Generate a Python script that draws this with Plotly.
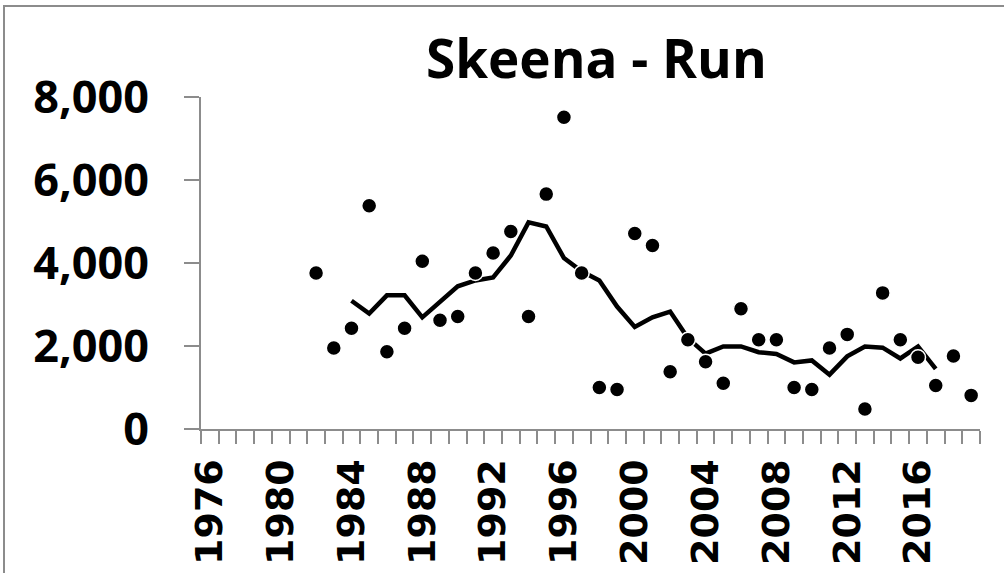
import plotly.graph_objects as go

years = list(range(1976, 2020))

run_years = list(range(1982, 2020))
run_values = [3760, 1950, 2430, 5380, 1860, 2430, 4040, 2620, 2710, 3760,
              4240, 4760, 2710, 5660, 7510, 3760, 1000, 950, 4710, 4420,
              1380, 2150, 1620, 1100, 2900, 2150, 2150, 1000, 950, 1950,
              2280, 480, 3280, 2150, 1730, 1050, 1760, 810]

avg_years = list(range(1984, 2018))
avg_values = [3090, 2780, 3220, 3220, 2690, 3075, 3440, 3580, 3650, 4180,
              4980, 4880, 4120, 3800, 3580, 2950, 2460, 2690, 2830, 2190,
              1815, 1990, 1990, 1850, 1807, 1605, 1653, 1310, 1750, 1990,
              1960, 1700, 1990, 1450]

x_labels = [str(y) for y in range(1976, 2020, 4)]
y_ticks = [0, 2000, 4000, 6000, 8000]
y_labels = ["0", "2,000", "4,000", "6,000", "8,000"]

fig = go.Figure()
fig.add_trace(go.Scatter(x=avg_years, y=avg_values, mode="lines",
                         line=dict(color="black", width=4.5),
                         showlegend=False, hoverinfo="skip"))
fig.add_trace(go.Scatter(x=run_years, y=run_values, mode="markers",
                         marker=dict(color="black", size=15,
                                     line=dict(color="white", width=1.5)),
                         showlegend=False))

axis_gray = "#8c8c8c"
L, R, T, B = 201, 24, 97, 144
W, H = 1004, 573
pw, ph = W - L - R, H - T - B
fig.update_layout(
    width=W, height=H,
    margin=dict(l=L, r=R, t=T, b=B),
    paper_bgcolor="white", plot_bgcolor="white",
    title=dict(text="<b>Skeena - Run</b>", x=0.594, xanchor="center",
               y=0.896, yanchor="middle",
               font=dict(family="Open Sans", size=53, color="black")),
    xaxis=dict(range=[1975.5, 2019.5], tickmode="array",
               tickvals=[int(t) for t in x_labels], ticktext=x_labels,
               tickangle=-90, ticks="", showgrid=False, zeroline=False,
               showline=True, linecolor=axis_gray, linewidth=2,
               ticklabelstandoff=13, automargin=False,
               tickfont=dict(family="DejaVu Sans", size=38, color="black",
                             weight="bold"),
               minor=dict(tickmode="linear", tick0=1975.5, dtick=1,
                          ticks="outside", ticklen=13, tickwidth=2,
                          tickcolor=axis_gray, showgrid=False)),
    yaxis=dict(range=[0, 8000], tickmode="array", tickvals=y_ticks,
               ticktext=y_labels, ticks="outside", ticklen=15, tickwidth=2,
               tickcolor=axis_gray, showgrid=False, zeroline=False,
               showline=True, linecolor=axis_gray, linewidth=2,
               ticklabelstandoff=26, automargin=False,
               tickfont=dict(family="Open Sans", size=45, color="black",
                             weight="bold")),
    shapes=[dict(type="rect", xref="paper", yref="paper",
                 x0=(4 - L) / pw, x1=(W + 20 - L) / pw,
                 y0=-(B + 20) / ph, y1=(H - 6 - B) / ph,
                 line=dict(color="#8c8c8c", width=2), layer="below")],
)

fig.write_html("out.html", config={"displayModeBar": False},
               post_script="document.body.style.margin='0';")
